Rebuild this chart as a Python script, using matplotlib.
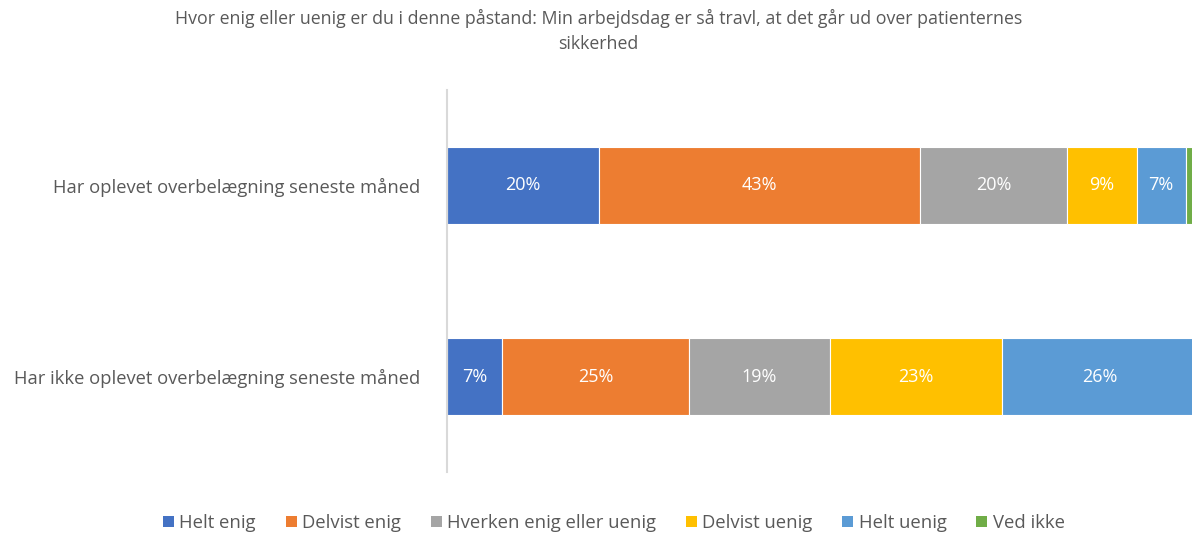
import matplotlib
matplotlib.use("Agg")
import matplotlib.pyplot as plt
from matplotlib.patches import Patch

plt.rcParams['font.family'] = ['Open Sans', 'DejaVu Sans']

title = "Hvor enig eller uenig er du i denne påstand: Min arbejdsdag er så travl, at det går ud over patienternes\nsikkerhed"
categories = ["Har ikke oplevet overbelægning seneste måned",
              "Har oplevet overbelægning seneste måned"]
series = ["Helt enig", "Delvist enig", "Hverken enig eller uenig",
          "Delvist uenig", "Helt uenig", "Ved ikke"]
colors = ["#4472C4", "#ED7D31", "#A5A5A5", "#FFC000", "#5B9BD5", "#70AD47"]
# values per series: [Har ikke, Har]
values = {
    "Helt enig": [7.3, 20.3],
    "Delvist enig": [25.0, 42.8],
    "Hverken enig eller uenig": [18.7, 19.55],
    "Delvist uenig": [23.0, 9.3],
    "Helt uenig": [26.0, 6.55],
    "Ved ikke": [0.0, 1.5],
}

W, H = 1192, 533
fig = plt.figure(figsize=(W / 100, H / 100), dpi=100)
ax = fig.add_axes([447 / W, 1 - 472 / H, 750 / W, 382 / H])

y = list(range(len(categories)))
left = [0.0] * len(categories)
for s, c in zip(series, colors):
    v = values[s]
    ax.barh(y, v, left=left, height=0.4, color=c, edgecolor="white", linewidth=0.8)
    for i, val in enumerate(v):
        if val >= 3:
            ax.text(left[i] + val / 2, y[i], f"{round(val):d}%", ha="center", va="center",
                    color="white", fontsize=13)
    left = [l + val for l, val in zip(left, v)]

ax.set_xlim(0, 100)
ax.set_ylim(-0.5, 1.5)
ax.set_yticks(y)
ax.set_yticklabels(categories, fontsize=13.2, color="#595959")
ax.tick_params(axis="y", length=0, pad=19)
ax.set_xticks([])
for sp in ["top", "right", "bottom"]:
    ax.spines[sp].set_visible(False)
ax.spines["left"].set_color("#D9D9D9")
ax.spines["left"].set_linewidth(1.5)

fig.text(0.502, 1 - 31 / H, title, ha="center", va="center", fontsize=12.8,
         color="#595959", linespacing=1.45)

handles = [Patch(facecolor=c, edgecolor="none") for c in colors]
fig.legend(handles, series, loc="center", bbox_to_anchor=(0.515, 1 - 523 / H), ncol=6,
           frameon=False, fontsize=13.3, handlelength=0.6, handleheight=0.6,
           handletextpad=0.3, columnspacing=1.6, labelcolor="#595959")

fig.savefig("out.png", dpi=100)
